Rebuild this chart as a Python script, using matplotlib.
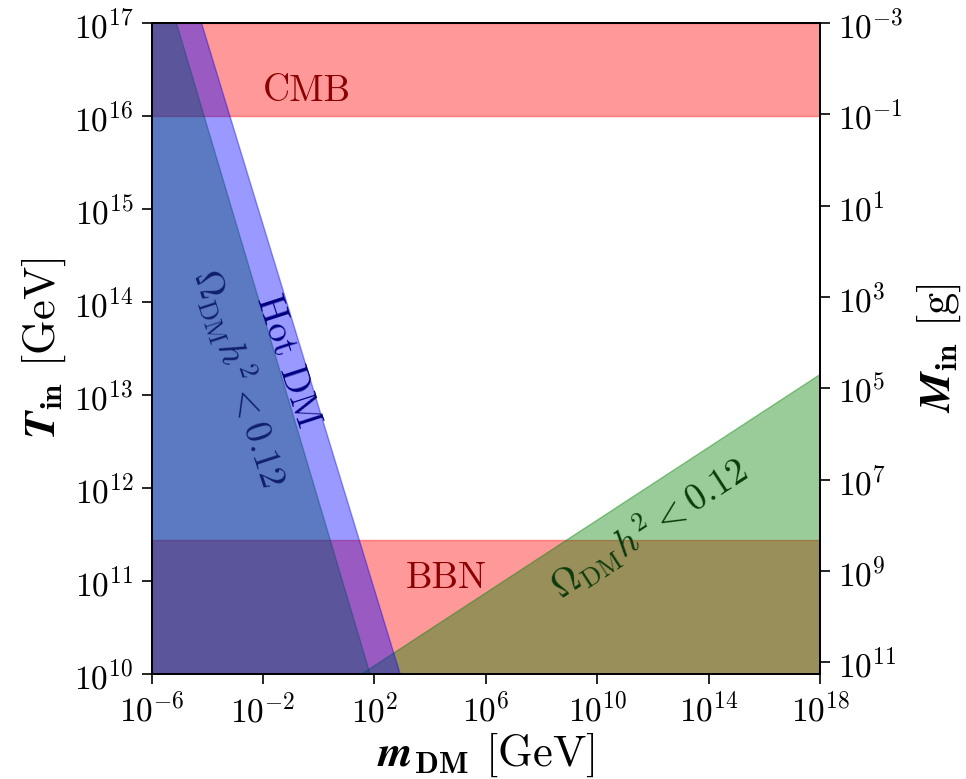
import numpy as np
import matplotlib
matplotlib.use("Agg")
import matplotlib.pyplot as plt
from matplotlib.ticker import FixedLocator, NullLocator, LogFormatterSciNotation

plt.rcParams["font.family"] = "serif"
plt.rcParams["font.serif"] = ["cmr10", "DejaVu Serif"]
plt.rcParams["mathtext.fontset"] = "cm"
plt.rcParams["axes.formatter.use_mathtext"] = True
plt.rcParams["axes.unicode_minus"] = False

# axis ranges
m_lim = [1e-6, 1e18]
T_lim = [1e10, 1e17]
M_lim = [10**11.25, 10**-3.0]  # right axis, inverted

# constraint regions
cmb_T = [1e16, 1e17]
bbn_T = [1e10, 10**11.44]
omega_left_m = [10**-5.11, 10**1.84]
omega_left_T = [1e17, 1e10]
hot_m = [10**-4.21, 10**2.92]
hot_T = [1e17, 1e10]
omega_right_m = [10**1.55, 1e18]
omega_right_T = [1e10, 10**13.22]

x_ticks = [1e-6, 1e-2, 1e2, 1e6, 1e10, 1e14, 1e18]
y_ticks = [10.0**k for k in range(10, 18)]
M_ticks = [10.0**k for k in range(-3, 12, 2)]

fig = plt.figure(figsize=(9.66, 7.79), dpi=100)
ax = fig.add_axes([0.157, 0.135, 0.692, 0.8355])
ax.set_xscale("log")
ax.set_yscale("log")
ax.set_xlim(m_lim)
ax.set_ylim(T_lim)

a = 0.4
# red bands first
ax.fill_between(m_lim, cmb_T[0], cmb_T[1], color="red", alpha=a, lw=1)
ax.fill_between(m_lim, bbn_T[0], bbn_T[1], color="red", alpha=a, lw=1)

# relic abundance (green)
ax.fill([m_lim[0], omega_left_m[0], omega_left_m[1], m_lim[0]],
        [omega_left_T[0], omega_left_T[0], omega_left_T[1], omega_left_T[1]],
        color="green", alpha=a, lw=1)
ax.fill([omega_right_m[0], omega_right_m[1], omega_right_m[1]],
        [omega_right_T[0], omega_right_T[1], omega_right_T[0]],
        color="green", alpha=a, lw=1)

# hot DM (blue)
ax.fill([m_lim[0], hot_m[0], hot_m[1], m_lim[0]],
        [hot_T[0], hot_T[0], hot_T[1], hot_T[1]],
        color="blue", alpha=a, lw=1)

fs_lab = 27
ax.text(10**-0.42, 10**16.26, "CMB", color="darkred", fontsize=fs_lab,
        ha="center", va="center")
ax.text(10**4.58, 10**11.03, "BBN", color="darkred", fontsize=fs_lab,
        ha="center", va="center")
ax.text(10**-1.14, 10**13.36, "Hot DM", color="navy", fontsize=fs_lab,
        ha="center", va="center", rotation=-72, rotation_mode="anchor")
ax.text(10**-2.83, 10**13.18, r"$\Omega_{\rm DM}h^2<0.12$", color="#10206a",
        fontsize=fs_lab, ha="center", va="center", rotation=-72,
        rotation_mode="anchor")
ax.text(10**11.85, 10**11.57, r"$\Omega_{\rm DM}h^2<0.12$", color="#0b3b0b",
        fontsize=fs_lab, ha="center", va="center", rotation=33,
        rotation_mode="anchor")

ax.xaxis.set_major_locator(FixedLocator(x_ticks))
ax.xaxis.set_minor_locator(NullLocator())
ax.yaxis.set_major_locator(FixedLocator(y_ticks))
ax.yaxis.set_minor_locator(NullLocator())
ax.xaxis.set_major_formatter(LogFormatterSciNotation())
ax.yaxis.set_major_formatter(LogFormatterSciNotation())
ax.tick_params(labelsize=24, length=7, width=1.2, pad=6)

fs_ax = 32
ax.set_xlabel(r"$\mathbfit{m}_{\mathbf{DM}}$ [GeV]", fontsize=fs_ax, labelpad=2)
ax.set_ylabel(r"$\mathbfit{T}_{\mathbf{in}}$ [GeV]", fontsize=fs_ax, labelpad=4)

ax2 = ax.twinx()
ax2.set_yscale("log")
ax2.set_ylim(M_lim)
ax2.yaxis.set_major_locator(FixedLocator(M_ticks))
ax2.yaxis.set_minor_locator(NullLocator())
ax2.yaxis.set_major_formatter(LogFormatterSciNotation())
ax2.tick_params(labelsize=24, length=7, width=1.2, pad=6)
ax2.set_ylabel(r"$\mathbfit{M}_{\mathbf{in}}$ [g]", fontsize=fs_ax, labelpad=8)

for sp in list(ax.spines.values()) + list(ax2.spines.values()):
    sp.set_linewidth(1.3)

fig.savefig("out.png", dpi=100)
